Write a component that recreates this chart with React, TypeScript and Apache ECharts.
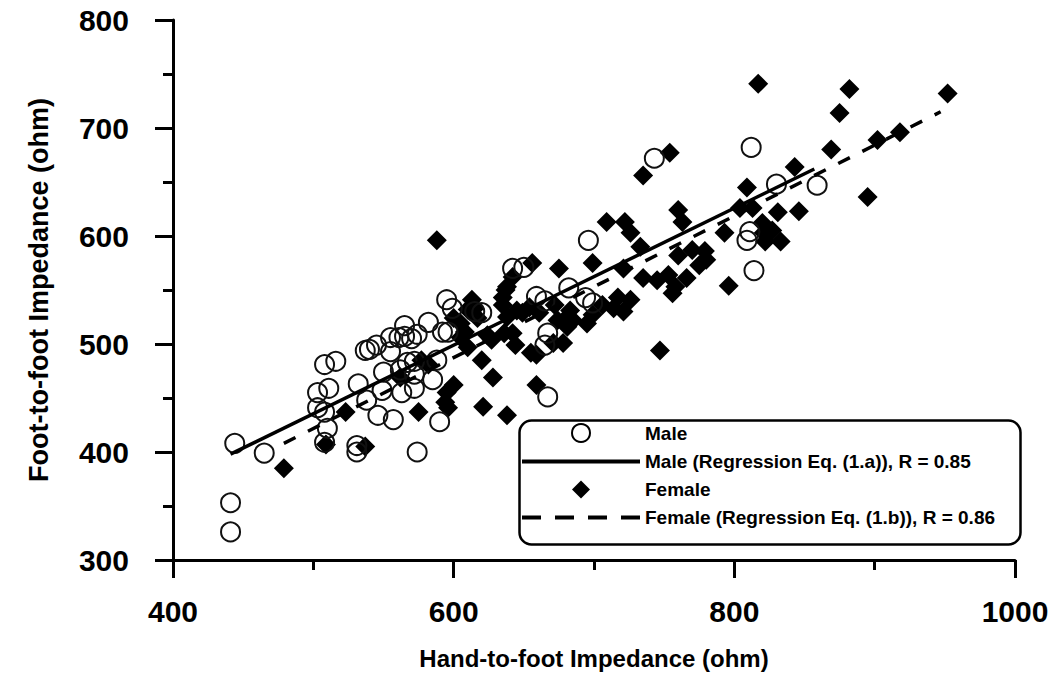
import React, { useEffect, useRef } from "react";
import * as echarts from "echarts";

// Hand-to-foot (x) vs Foot-to-foot (y) impedance, ohm
const malePoints: [number, number][] = [
  [444, 408], [465, 399], [441, 353], [441, 326],
  [503, 455], [511, 459], [508, 481], [516, 484], [503, 441], [508, 437], [510, 422], [508, 409],
  [531, 406], [531, 400], [537, 494], [532, 463],
  [540, 495], [545, 499], [555, 493], [555, 506], [561, 506], [565, 507], [570, 505], [574, 509], [565, 517], [582, 520],
  [595, 541], [599, 533], [592, 511], [596, 511],
  [567, 483], [572, 484], [588, 485], [562, 476], [572, 472], [550, 474], [585, 467], [563, 455], [572, 459], [549, 457],
  [538, 448], [546, 434], [557, 430], [590, 428], [574, 400],
  [615, 530], [620, 529], [642, 570], [650, 571], [659, 544], [665, 540], [667, 510], [665, 499], [667, 451],
  [682, 552], [694, 543], [699, 538], [696, 596],
  [743, 672], [812, 682], [830, 648], [859, 647], [811, 604], [809, 596], [814, 568],
];

const femalePoints: [number, number][] = [
  [479, 385], [509, 407], [523, 437], [537, 405],
  [562, 469], [575, 437], [577, 485], [582, 481], [588, 596],
  [594, 446], [596, 441], [595, 455], [600, 462],
  [600, 524], [605, 519], [608, 511], [605, 506], [610, 497],
  [613, 541], [615, 533], [617, 524], [610, 532],
  [620, 485], [621, 442], [624, 508], [627, 504], [628, 469],
  [635, 536], [635, 543], [637, 550], [638, 553], [638, 525], [636, 510], [642, 510], [642, 562], [644, 499],
  [645, 531], [649, 529], [654, 534], [655, 492], [656, 575], [659, 490], [659, 462], [638, 434], [661, 529],
  [672, 536], [675, 570], [674, 522], [671, 501], [681, 525], [678, 501], [681, 516], [683, 531], [685, 522],
  [695, 519], [699, 527], [699, 575], [706, 536], [709, 613], [714, 533], [717, 543], [721, 530], [721, 570],
  [722, 613], [726, 603], [726, 541], [733, 590], [735, 561], [735, 656], [745, 559], [747, 494], [753, 564],
  [754, 677], [756, 547], [758, 553], [760, 624], [760, 582], [763, 613], [766, 561], [770, 587], [775, 573],
  [780, 578], [779, 586], [793, 603], [796, 554],
  [804, 626], [809, 645], [813, 626], [817, 741], [820, 612], [821, 603], [822, 595], [827, 605], [831, 622],
  [833, 595], [843, 664], [846, 623], [869, 680], [875, 714], [882, 736], [895, 636], [902, 689], [918, 696],
  [952, 732],
];

// Regression lines (end points)
const maleFit: [number, number][] = [[441, 398], [857, 662]];
const femaleFit: [number, number][] = [[479, 408], [947, 715]];

const seriesNames = [
  "Male",
  "Male (Regression Eq. (1.a)), R = 0.85",
  "Female",
  "Female (Regression Eq. (1.b)), R = 0.86",
];

const xAxisTitle = "Hand-to-foot Impedance (ohm)";
const yAxisTitle = "Foot-to-foot Impedance (ohm)";

export default function App() {
  const ref = useRef<HTMLDivElement>(null);

  useEffect(() => {
    document.body.style.margin = "0";
    const chart = echarts.init(ref.current as HTMLDivElement, null, { renderer: "svg" });
    const font = "'Liberation Sans', Arial, Helvetica, sans-serif";
    const black = "#000";

    const axisCommon = {
      type: "value" as const,
      nameLocation: "middle" as const,
      axisLine: { show: true, onZero: false, lineStyle: { color: black, width: 3 } },
      axisTick: { show: true, inside: false, length: 18, lineStyle: { color: black, width: 3 } },
      minorTick: { show: true, splitNumber: 2, length: 10, lineStyle: { color: black, width: 3 } },
      splitLine: { show: false },
      minorSplitLine: { show: false },
    };

    const hiddenSymbol = { opacity: 0, color: "transparent", borderWidth: 0 };
    // Legend icon box is 118 x 18: invisible corner moves keep the diamond's aspect.
    const legendDiamond = "path://M0,0M118,18M59,0L68,9L59,18L50,9Z";

    chart.setOption({
      animation: false,
      backgroundColor: "#fff",
      grid: { left: 173, right: 39, top: 20, bottom: 116 },
      xAxis: {
        ...axisCommon,
        min: 400,
        max: 1000,
        interval: 200,
        name: xAxisTitle,
        nameGap: 86,
        nameTextStyle: { fontFamily: font, fontWeight: "bold", fontSize: 24, color: black },
        axisLabel: {
          margin: 36,
          fontFamily: font,
          fontWeight: "bold",
          fontSize: 30,
          color: black,
          formatter: (v: number) => String(v),
        },
      },
      yAxis: {
        ...axisCommon,
        min: 300,
        max: 800,
        interval: 100,
        name: yAxisTitle,
        nameGap: 121,
        nameTextStyle: { fontFamily: font, fontWeight: "bold", fontSize: 27, color: black },
        axisLabel: {
          margin: 44,
          fontFamily: font,
          fontWeight: "bold",
          fontSize: 30,
          color: black,
          formatter: (v: number) => String(v),
        },
      },
      legend: {
        orient: "vertical",
        left: 520,
        top: 423,
        padding: 0,
        itemGap: 9,
        itemWidth: 118,
        itemHeight: 18,
        textStyle: { fontFamily: font, fontWeight: "bold", fontSize: 19, color: black },
        data: [
          { name: seriesNames[0], icon: "circle", itemStyle: { color: "#fff", borderColor: black, borderWidth: 2 } },
          { name: seriesNames[1], itemStyle: hiddenSymbol, lineStyle: { color: black, width: 4, type: "solid" } },
          { name: seriesNames[2], icon: legendDiamond, itemStyle: { color: black } },
          { name: seriesNames[3], itemStyle: hiddenSymbol, lineStyle: { color: black, width: 4, type: [19, 14] } },
        ],
      },
      graphic: [
        {
          type: "rect",
          left: 517,
          top: 418,
          z: 100,
          shape: { width: 501, height: 124, r: 12 },
          style: { fill: "none", stroke: black, lineWidth: 2.5 },
        },
      ],
      series: [
        {
          name: seriesNames[2],
          type: "scatter",
          data: femalePoints,
          symbol: "diamond",
          symbolSize: 20,
          itemStyle: { color: black, opacity: 1 },
          z: 2,
        },
        {
          name: seriesNames[0],
          type: "scatter",
          data: malePoints,
          symbol: "circle",
          symbolSize: 19,
          itemStyle: { color: "transparent", borderColor: "#111", borderWidth: 2, opacity: 1 },
          z: 3,
        },
        {
          name: seriesNames[1],
          type: "line",
          data: maleFit,
          symbol: "none",
          itemStyle: { color: black },
          lineStyle: { color: black, width: 3.5, type: "solid" },
          z: 4,
        },
        {
          name: seriesNames[3],
          type: "line",
          data: femaleFit,
          symbol: "none",
          itemStyle: { color: black },
          lineStyle: { color: black, width: 3.5, type: [13, 14] },
          z: 4,
        },
      ],
    });

    return () => chart.dispose();
  }, []);

  return (
    <div
      ref={ref}
      style={{ position: "absolute", left: 0, top: 0, width: 1054, height: 676 }}
    />
  );
}
